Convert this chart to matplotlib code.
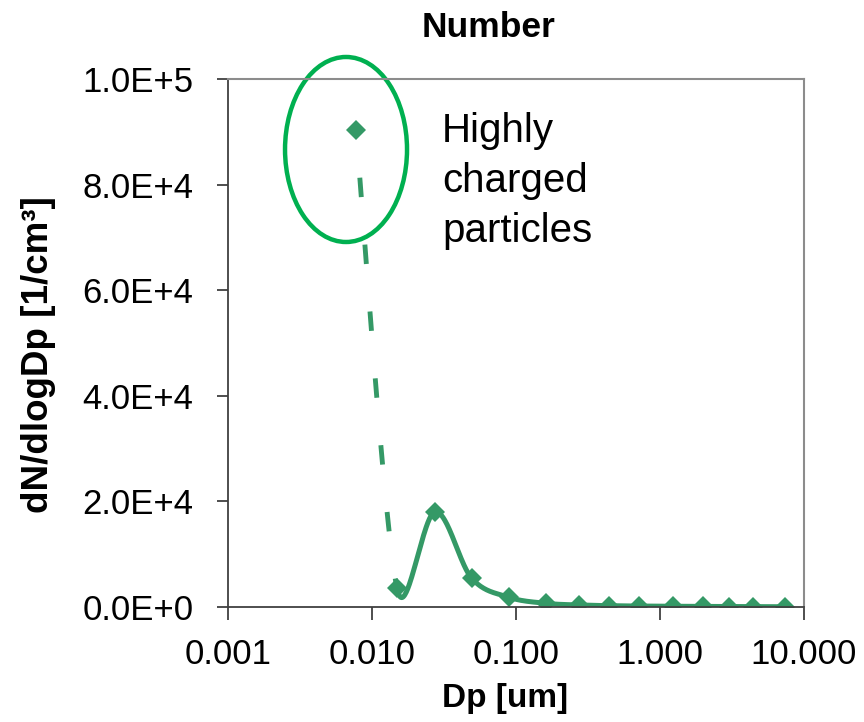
import numpy as np
import matplotlib
matplotlib.use("Agg")
import matplotlib.pyplot as plt
from matplotlib.patches import Ellipse
from matplotlib.ticker import FuncFormatter, FixedLocator

plt.rcParams['font.family'] = ['Liberation Sans', 'DejaVu Sans']

# size distribution
dp_um = [0.00774, 0.0149, 0.0274, 0.0491, 0.0894, 0.1615, 0.275, 0.443,
         0.719, 1.24, 2.0, 3.02, 4.45, 7.38]
dn_dlogdp = [90300, 3600, 18050, 5490, 1840, 700, 380, 250,
             180, 140, 110, 90, 70, 50]

x_ticks = [0.001, 0.01, 0.1, 1, 10]
y_ticks = [0, 20000, 40000, 60000, 80000, 100000]

GREEN = '#349966'
RING = '#00B050'

# pixel scale of the axes, used only to shape the smoothed line
PX_DECADE = 144.0
PX_PER_Y = 528.0 / 100000


def smooth_curve(xv, yv, n=50):
    # Excel-like smoothed line: Catmull-Rom Bezier pieces, handles capped
    # at about half the segment length
    p = np.column_stack([np.log10(xv) * PX_DECADE, np.asarray(yv, float) * PX_PER_Y])
    m = len(p)
    tan = np.array([(p[min(i + 1, m - 1)] - p[max(i - 1, 0)]) / 6 for i in range(m)])
    segs = []
    t = np.linspace(0, 1, n)[:, None]
    for i in range(m - 1):
        p1, p2 = p[i], p[i + 1]
        seg = np.linalg.norm(p2 - p1) * 0.52
        h1, h2 = tan[i], tan[i + 1]
        if np.linalg.norm(h1) > seg:
            h1 = h1 * seg / np.linalg.norm(h1)
        if np.linalg.norm(h2) > seg:
            h2 = h2 * seg / np.linalg.norm(h2)
        b1 = p1 + h1
        b2 = p2 - h2
        pts = ((1 - t) ** 3) * p1 + 3 * ((1 - t) ** 2) * t * b1 + 3 * (1 - t) * t ** 2 * b2 + t ** 3 * p2
        segs.append((10 ** (pts[:, 0] / PX_DECADE), pts[:, 1] / PX_PER_Y))
    return segs


fig = plt.figure(figsize=(8.64, 7.22), dpi=100)
ax = fig.add_axes([228 / 864, 1 - 607 / 722, 576 / 864, 528 / 722])

segs = smooth_curve(dp_um, dn_dlogdp)
# first segment dashed, rest solid
ax.plot(segs[0][0], segs[0][1], color=GREEN, lw=3.5, linestyle=(4.0, (4.0, 9.8)),
        solid_capstyle='butt', dash_capstyle='butt')
xs = np.concatenate([s[0] for s in segs[1:]])
ys = np.concatenate([s[1] for s in segs[1:]])
ax.plot(xs, ys, color=GREEN, lw=3.6, solid_capstyle='round', solid_joinstyle='round')
ax.plot(dp_um, dn_dlogdp, linestyle='none', marker='D', markersize=10,
        color=GREEN, markeredgewidth=0)

ax.set_xscale('log')
ax.set_xlim(0.001, 10)
ax.set_ylim(0, 100000)
ax.xaxis.set_major_locator(FixedLocator(x_ticks))
ax.xaxis.set_minor_locator(FixedLocator([]))
ax.xaxis.set_major_formatter(FuncFormatter(lambda v, p: f"{v:.3f}"))
ax.set_yticks(y_ticks)
ax.yaxis.set_major_formatter(FuncFormatter(
    lambda v, p: "0.0E+0" if v == 0 else f"{v / 10 ** int(np.floor(np.log10(v))):.1f}E+{int(np.floor(np.log10(v)))}"))
ax.tick_params(axis='both', direction='out', width=1.3, color='#404040', labelsize=25)
ax.tick_params(axis='y', length=8, pad=17)
ax.tick_params(axis='x', length=9.5, pad=13)

for side in ['left', 'bottom']:
    ax.spines[side].set_color('#404040')
    ax.spines[side].set_linewidth(1.3)
for side in ['top', 'right']:
    ax.spines[side].set_color('#8c8c8c')
    ax.spines[side].set_linewidth(1.5)

ring = Ellipse((0.2049, 0.8665), 0.2118, 0.3504, transform=ax.transAxes,
               fill=False, edgecolor=RING, lw=3.2, clip_on=False)
ax.add_patch(ring)

fig.text(442 / 864, 1 - 112 / 722, "Highly\ncharged\nparticles", fontsize=29,
         va='top', ha='left', linespacing=1.4)
fig.text(489 / 864, 1 - 37 / 722, "Number", fontsize=25.5, fontweight='bold',
         ha='center', va='baseline')
fig.text(505 / 864, 1 - 707 / 722, "Dp [um]", fontsize=24, fontweight='bold',
         ha='center', va='baseline')
fig.text(39 / 864, 1 - 355 / 722, "dN/dlogDp [1/cm³]", fontsize=26.5, fontweight='bold',
         ha='center', va='center', rotation=90)

fig.savefig("out.png", dpi=100)
